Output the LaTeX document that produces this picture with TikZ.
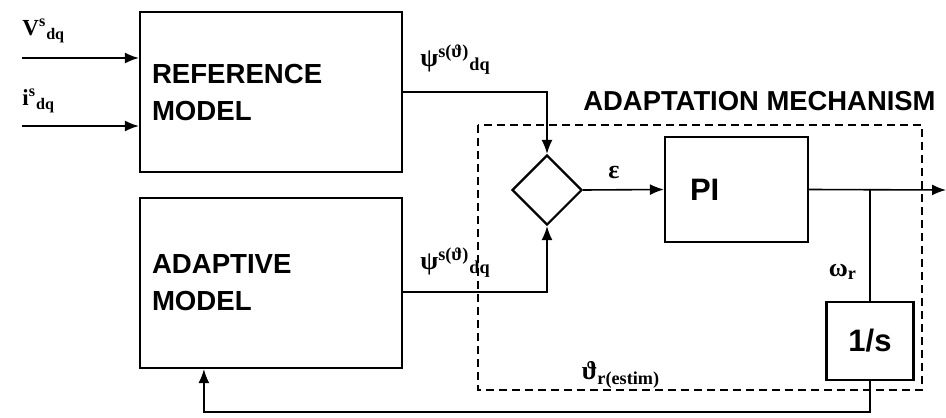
\documentclass[tikz,border=0pt]{standalone}
\usepackage{fontspec}
\setmainfont{Liberation Serif}
\setsansfont{Liberation Sans}
\usepackage{tikz}
\usetikzlibrary{positioning,arrows.meta,calc,shapes.geometric}

\begin{document}
\begin{tikzpicture}[
  x=0.5pt, y=-0.5pt,
  font=\sffamily\bfseries,
  block/.style={draw, line width=1.1pt, fill=white, align=left, inner ysep=0pt},
  flow/.style={-{Latex[length=7pt,width=5.5pt]}, line width=0.8pt},
  wire/.style={line width=0.8pt},
  lbl/.style={font=\rmfamily\bfseries\fontsize{13}{15}\selectfont, inner sep=0pt},
]
\useasboundingbox (0,0) rectangle (946,417);

% ---- Bloques ----
\node[block, minimum width=131pt, minimum height=80pt, text width=119pt, inner xsep=6pt,
      font=\sffamily\bfseries\fontsize{13.8}{18.5}\selectfont] (ref) at (271,92) {REFERENCE\\MODEL\\[-4pt]};
\node[block, minimum width=131pt, minimum height=85pt, text width=119pt, inner xsep=6pt,
      font=\sffamily\bfseries\fontsize{13.8}{18.5}\selectfont] (adp) at (271,283) {ADAPTIVE\\MODEL};
\node[draw, diamond, line width=1.1pt, minimum width=35pt, minimum height=35pt, inner sep=0pt] (cmp) at (547,190) {};
\node[block, minimum width=71.5pt, minimum height=52.5pt, text width=46.5pt, inner xsep=12.5pt,
      font=\sffamily\bfseries\fontsize{15.5}{17}\selectfont] (pi) at (736.5,189.5) {PI};
\node[block, align=center, minimum width=43.5pt, minimum height=39pt, inner sep=0pt,
      font=\sffamily\bfseries\fontsize{15.5}{17}\selectfont] (integ) at (870,341) {1/s};

% ---- Mecanismo de adaptacion ----
\draw[dashed, line width=0.9pt, dash pattern=on 4pt off 2.5pt] (478,125) rectangle (922,390);
\node[anchor=west, inner sep=0pt, font=\sffamily\bfseries\fontsize{13.7}{16}\selectfont] (mech) at (583,101) {ADAPTATION MECHANISM};

% ---- Entradas ----
\coordinate (vin) at (22,58);
\coordinate (iin) at (22,126);
\node[lbl, anchor=west, font=\rmfamily\bfseries\fontsize{11.5}{13}\selectfont] (vlab) at (22,31) {V\textsuperscript{s}\textsubscript{dq}};
\node[lbl, anchor=west, font=\rmfamily\bfseries\fontsize{11.5}{13}\selectfont] (ilab) at (22,101) {i\textsuperscript{s}\textsubscript{dq}};
\draw[flow] (vin) -- (ref.west |- vin);
\draw[flow] (iin) -- (ref.west |- iin);

% ---- Flujos ----
\draw[flow] (ref.east) -| (cmp.north);
\draw[flow] (adp.east |- 0,292) -| (cmp.south);
\node[lbl, anchor=west] (psiref) at (420,60) {ψ\textsuperscript{s(ϑ)}\textsubscript{dq}};
\node[lbl, anchor=west] (psiadp) at (420,263) {ψ\textsuperscript{s(ϑ)}\textsubscript{dq}};

\draw[flow] (cmp.east) -- (pi.west);
\node[lbl] (eps) at (614,172) {ε};

\coordinate (out) at (946,190);
\coordinate (br) at (integ.north |- pi.east);
\draw[flow] (pi.east) -- (out);
\draw[wire] (br) -- (integ.north);
\node[lbl] (omg) at (843,272) {ω\textsubscript{r}};

% ---- Realimentacion ----
\draw[flow] (integ.south) -- (integ.south |- 0,412) -| ($(adp.south west)+(65,0)$);
\node[lbl] (theta) at (621,375) {ϑ\textsubscript{r(estim)}};

\end{tikzpicture}
\end{document}
